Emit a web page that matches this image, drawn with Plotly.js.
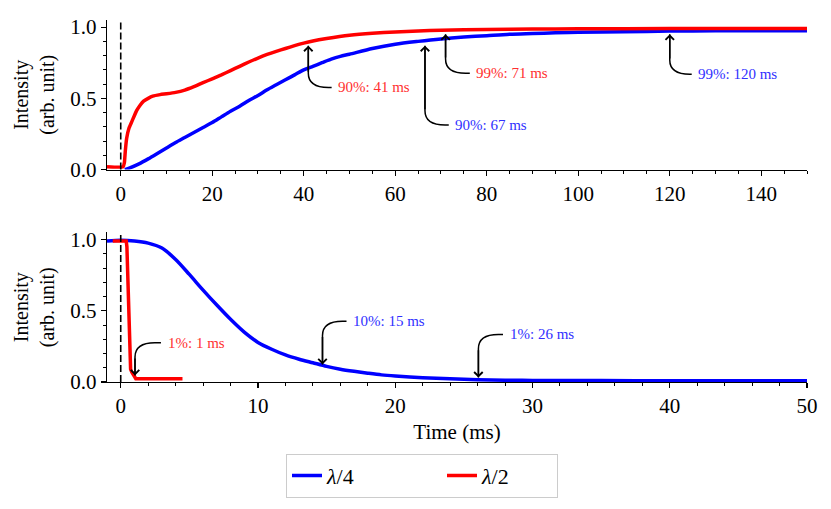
<!DOCTYPE html>
<html>
<head>
<meta charset="utf-8">
<script src="https://cdn.plot.ly/plotly-3.0.1.min.js"></script>
<style>
  html, body { margin: 0; padding: 0; background: #fff; }
  #chart { width: 831px; height: 509px; }
</style>
</head>
<body>
<div id="chart"></div>
<script>
// rise (upper panel)
var riseTimeQuarter = [0.9, 2, 4, 6, 8, 10, 12, 14, 16, 18, 20, 22, 24, 26, 28, 30, 32, 34, 36, 38, 40,
                       42, 44, 46, 48, 50, 55, 60, 65, 70, 75, 80, 85, 90, 95, 100, 110, 120, 130, 140, 150];
var riseQuarter = [0.0, 0.012, 0.04, 0.075, 0.113, 0.152, 0.19, 0.225, 0.26, 0.295, 0.33, 0.37, 0.41, 0.445,
                   0.485, 0.52, 0.56, 0.595, 0.63, 0.665, 0.7, 0.725, 0.75, 0.775, 0.795, 0.81, 0.85, 0.88,
                   0.9, 0.917, 0.93, 0.94, 0.95, 0.955, 0.96, 0.964, 0.968, 0.972, 0.974, 0.975, 0.975];

var riseTimeHalf = [-3, 0.5, 0.8, 1.0, 1.3, 1.8, 2.4, 3, 3.5, 4.2, 5, 6, 7, 8.6, 10, 12, 14, 16, 18, 20,
                    22, 24, 26, 28, 30, 32, 34, 36, 38, 40, 42, 45, 50, 55, 60, 65, 70, 80, 90, 100, 120, 150];
var riseHalf = [0.02, 0.02, 0.05, 0.13, 0.22, 0.29, 0.335, 0.38, 0.415, 0.45, 0.48, 0.5, 0.515, 0.526,
                0.532, 0.542, 0.558, 0.582, 0.61, 0.637, 0.665, 0.695, 0.725, 0.755, 0.783, 0.808, 0.83,
                0.85, 0.87, 0.888, 0.903, 0.92, 0.943, 0.957, 0.966, 0.973, 0.978, 0.983, 0.986, 0.988,
                0.99, 0.99];

// fall (lower panel)
var fallTimeQuarter = [-1, 0, 1, 2, 3, 4, 5, 6, 7, 8, 9, 10, 11, 12, 13, 14, 15, 16, 17, 18, 19, 20,
                       22, 24, 26, 28, 30, 35, 40, 45, 50];
var fallQuarter = [0.99, 0.995, 0.99, 0.975, 0.94, 0.86, 0.755, 0.645, 0.54, 0.44, 0.35, 0.278, 0.23,
                   0.19, 0.16, 0.135, 0.11, 0.09, 0.075, 0.062, 0.05, 0.042, 0.03, 0.022, 0.016, 0.013,
                   0.011, 0.01, 0.009, 0.009, 0.009];

var fallTimeHalf = [-0.58, 0.4, 0.45, 0.55, 0.65, 0.72, 0.8, 1.0, 1.1, 2, 3, 4.5];
var fallHalf = [0.99, 0.99, 0.95, 0.6, 0.25, 0.09, 0.07, 0.03, 0.023, 0.023, 0.023, 0.023];

var triggerTime = 0;

// markers: arrow tip, label position, text
var markPanel = ['top', 'top', 'top', 'top', 'bottom', 'bottom', 'bottom'];
var markTime  = [41, 66.5, 71, 120, 1.04, 14.7, 26.06];
var markLevel = [0.87, 0.87, 0.95, 0.95, 0.046, 0.123, 0.031];
var labelTime  = [47.1, 72.7, 77.3, 125.8, 3.28, 16.8, 28.2];
var labelLevel = [0.577, 0.313, 0.676, 0.67, 0.275, 0.426, 0.334];
var labelText = ['90%: 41 ms', '90%: 67 ms', '99%: 71 ms', '99%: 120 ms',
                 '1%: 1 ms', '10%: 15 ms', '1%: 26 ms'];
var markColor = ['red', 'blue', 'red', 'blue', 'red', 'blue', 'blue'];

var FONT = 'Liberation Serif, Times New Roman, serif';
var BLUE = '#0000ff';
var RED = '#ff0000';
var TEXT_COLOR = {red: '#ff3030', blue: '#3030ff'};

var data = [
  {x: riseTimeQuarter, y: riseQuarter, xaxis: 'x', yaxis: 'y', type: 'scatter', mode: 'lines',
   name: '<i>λ</i>/4', line: {color: BLUE, width: 3.5, shape: 'spline', smoothing: 0.8},
   legendgroup: 'q', legendwidth: 110},
  {x: riseTimeHalf, y: riseHalf, xaxis: 'x', yaxis: 'y', type: 'scatter', mode: 'lines',
   name: '<i>λ</i>/2', line: {color: RED, width: 3.5, shape: 'spline', smoothing: 0.5},
   legendgroup: 'h', legendwidth: 70},
  {x: fallTimeQuarter, y: fallQuarter, xaxis: 'x2', yaxis: 'y2', type: 'scatter', mode: 'lines',
   name: '<i>λ</i>/4', showlegend: false, line: {color: BLUE, width: 3.5, shape: 'spline', smoothing: 0.8},
   legendgroup: 'q'},
  {x: fallTimeHalf, y: fallHalf, xaxis: 'x2', yaxis: 'y2', type: 'scatter', mode: 'lines',
   name: '<i>λ</i>/2', showlegend: false, line: {color: RED, width: 3.5}, legendgroup: 'h'}
];

// curve size of the connectors, in data units of each panel
var panelRef = {top: {x: 'x', y: 'y', rx: 4.4, ry: 0.1, gap: 1.0},
                bottom: {x: 'x2', y: 'y2', rx: 1.45, ry: 0.1, gap: 0.35}};

var shapes = [];
var annotations = [];

['x', 'x2'].forEach(function (xr, i) {
  shapes.push({type: 'line', xref: xr, yref: (i ? 'y2' : 'y') + ' domain',
               x0: triggerTime, x1: triggerTime, y0: 0, y1: 1,
               line: {color: 'black', width: 1.6, dash: '7px,3px'}});
});

for (var i = 0; i < markTime.length; i++) {
  var p = panelRef[markPanel[i]];
  var tx = markTime[i], ty = markLevel[i];
  var lx = labelTime[i] - p.gap, ly = labelLevel[i];
  var dy = ly < ty ? p.ry : -p.ry;
  var path = 'M' + tx + ',' + ty + ' L' + tx + ',' + (ly + dy) +
             ' Q' + tx + ',' + ly + ' ' + (tx + p.rx) + ',' + ly + ' L' + lx + ',' + ly;
  shapes.push({type: 'path', xref: p.x, yref: p.y, path: path,
               line: {color: 'black', width: 1.5}});
  annotations.push({xref: p.x, yref: p.y, x: tx, y: ty, axref: p.x, ayref: p.y,
                    ax: tx, ay: ly + dy, text: '', showarrow: true,
                    arrowhead: 4, arrowsize: 1.1, arrowwidth: 1.5, arrowcolor: 'black'});
  annotations.push({xref: p.x, yref: p.y, x: labelTime[i], y: ly, text: labelText[i],
                    showarrow: false, xanchor: 'left', yanchor: 'middle',
                    font: {family: FONT, size: 15, color: TEXT_COLOR[markColor[i]]}});
}

function axisStyle(extra) {
  var a = {showline: true, linecolor: 'black', linewidth: 1.2, mirror: false,
           ticks: 'outside', ticklen: 5, tickwidth: 1.2, tickcolor: 'black',
           showgrid: false, zeroline: false,
           tickfont: {family: FONT, size: 21, color: 'black'}};
  for (var k in extra) a[k] = extra[k];
  return a;
}

var yTitle = {text: 'Intensity<br>(arb. unit)', font: {family: FONT, size: 20, color: 'black'}, standoff: 10};

var layout = {
  width: 831, height: 509,
  paper_bgcolor: 'white', plot_bgcolor: 'white',
  margin: {l: 107, r: 24, t: 20, b: 126},
  font: {family: FONT, color: 'black'},
  xaxis: axisStyle({anchor: 'y', range: [-3, 150], tick0: 0, dtick: 20,
                    minor: {ticks: 'outside', dtick: 5, ticklen: 3, tickwidth: 1, tickcolor: 'black'}}),
  yaxis: axisStyle({domain: [0.5868, 1], anchor: 'x', range: [0, 1.05], dtick: 0.5, tickformat: '.1f',
                    minor: {ticks: 'outside', dtick: 0.1, ticklen: 3, tickwidth: 1, tickcolor: 'black'},
                    title: yTitle}),
  xaxis2: axisStyle({anchor: 'y2', range: [-1, 50], tick0: 0, dtick: 10,
                     minor: {ticks: 'outside', dtick: 2, ticklen: 3, tickwidth: 1, tickcolor: 'black'},
                     title: {text: 'Time (ms)', font: {family: FONT, size: 21, color: 'black'}, standoff: 6}}),
  yaxis2: axisStyle({domain: [0, 0.4132], anchor: 'x2', range: [0, 1.05], dtick: 0.5, tickformat: '.1f',
                     minor: {ticks: 'outside', dtick: 0.1, ticklen: 3, tickwidth: 1, tickcolor: 'black'},
                     title: yTitle}),
  showlegend: true,
  legend: {orientation: 'h', x: 0.45, xanchor: 'center', y: -0.195, yanchor: 'top',
           bordercolor: '#cccccc', borderwidth: 1, bgcolor: 'white',
           font: {family: FONT, size: 22, color: 'black'}, traceorder: 'normal'},
  shapes: shapes,
  annotations: annotations
};

Plotly.newPlot('chart', data, layout, {displayModeBar: false, responsive: false, staticPlot: true});
</script>
</body>
</html>
